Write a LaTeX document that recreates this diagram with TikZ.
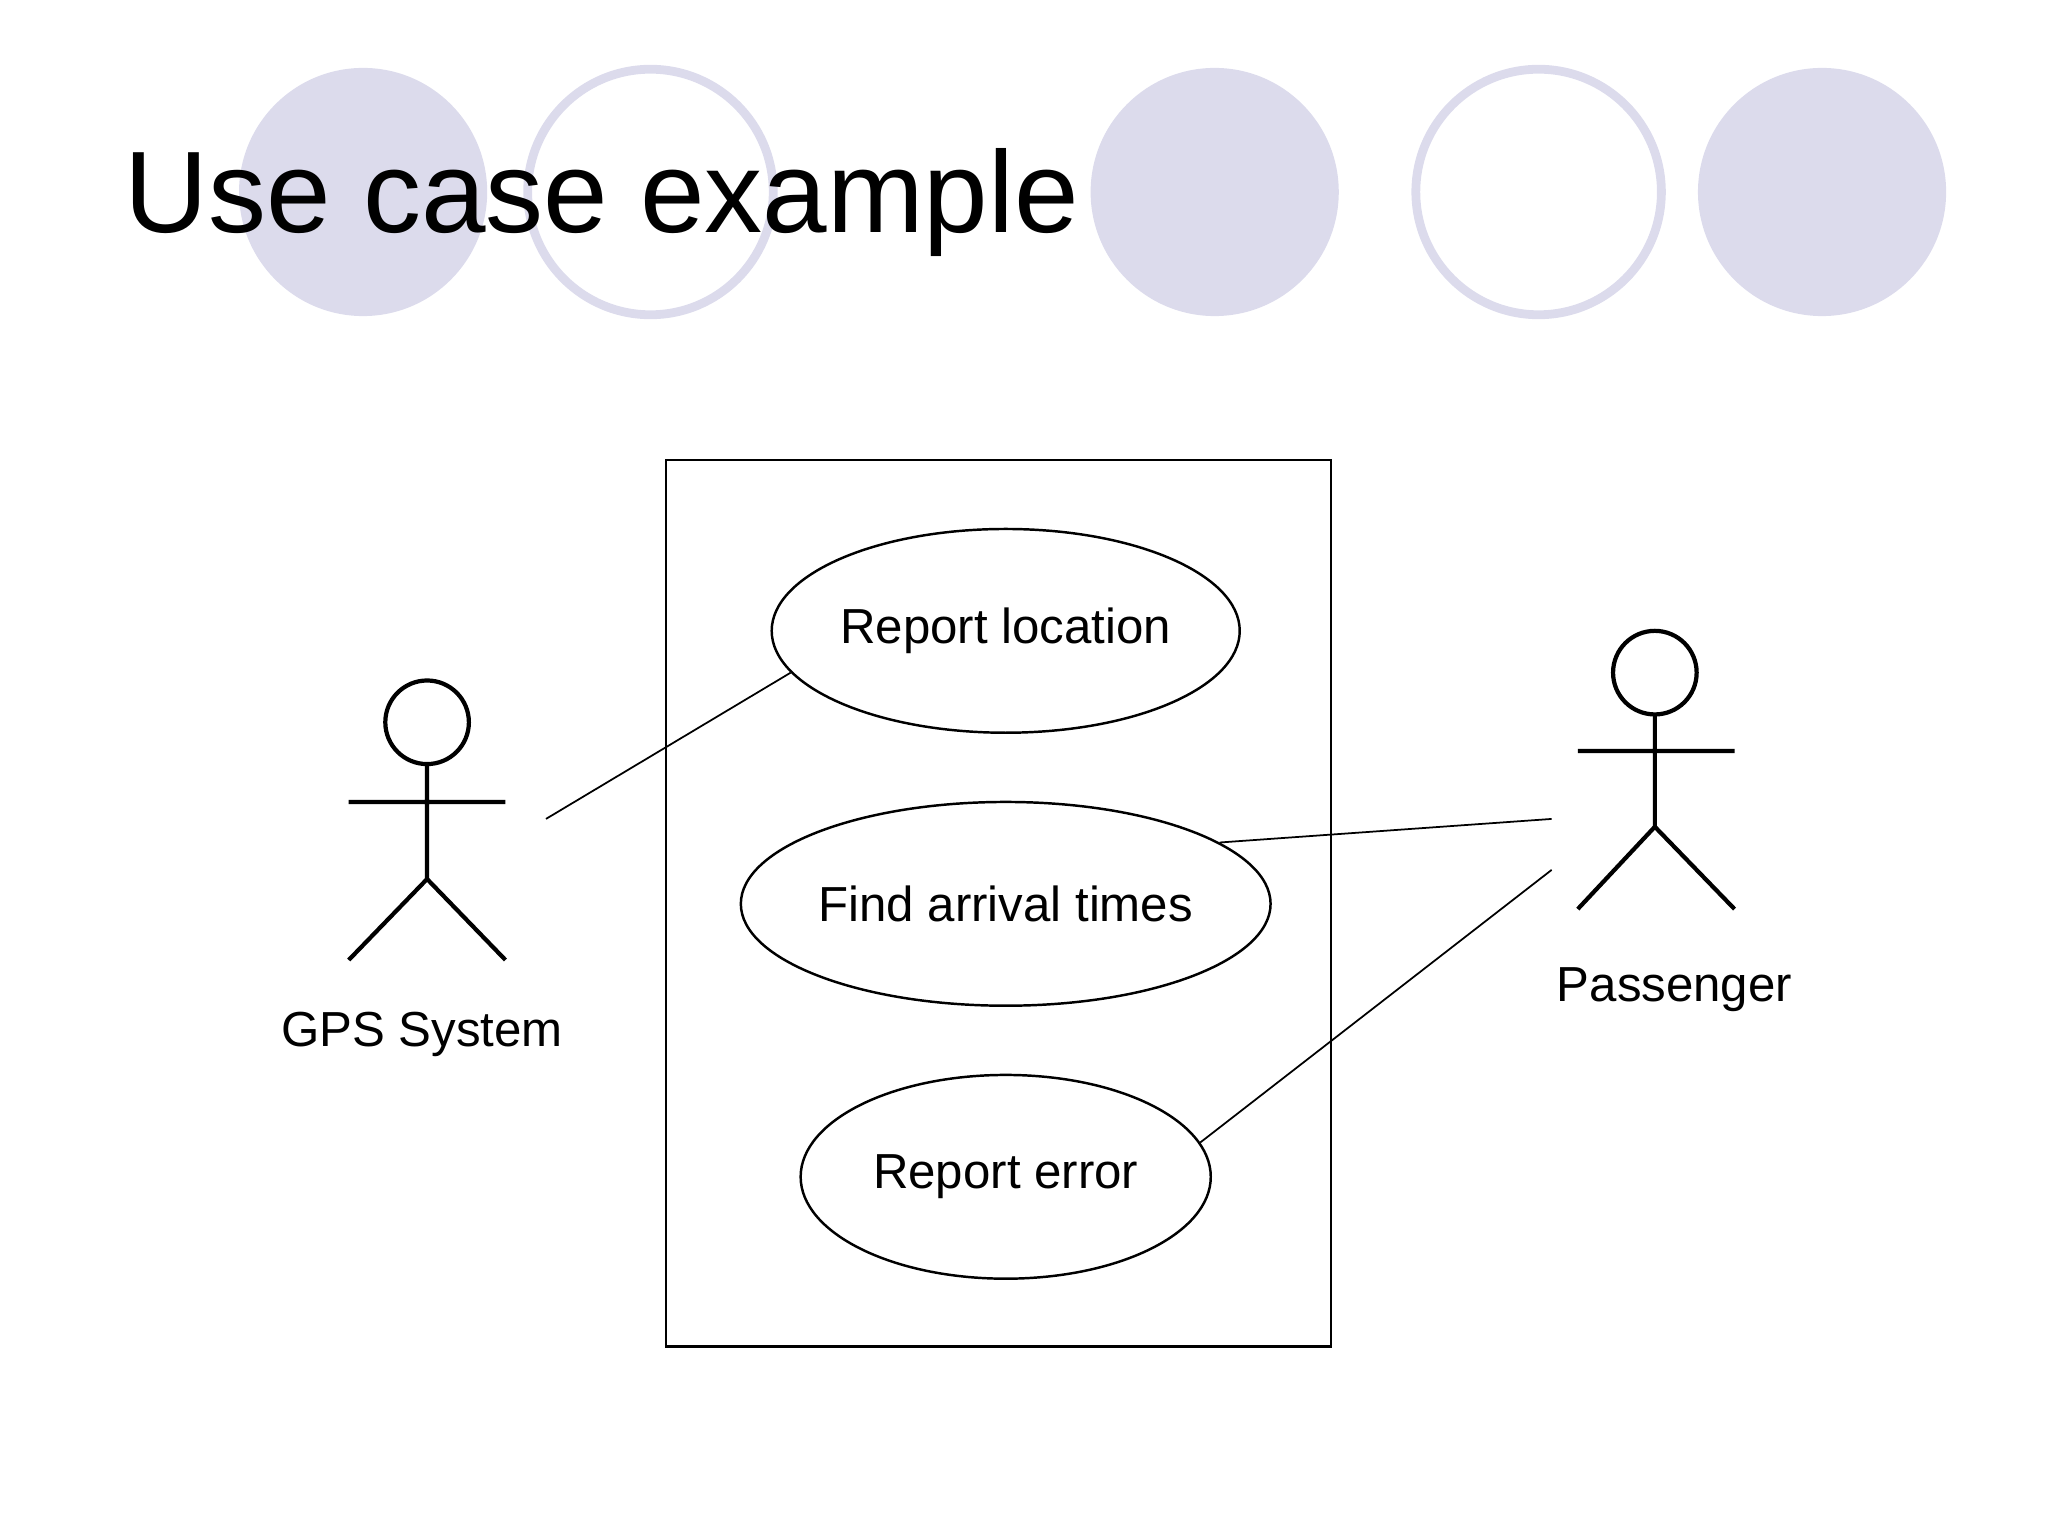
\documentclass[tikz,border=0pt]{standalone}
\usepackage{fontspec}
\setmainfont{Liberation Sans}
\usetikzlibrary{shapes.geometric}
\definecolor{lav}{RGB}{220,219,236}
\begin{document}
\begin{tikzpicture}[x=0.013061cm,y=-0.013061cm,
  deco/.style={line width=2.5pt,draw=lav},
  uc/.style={ellipse,draw,line width=0.7pt,minimum width=314*0.013061cm,minimum height=156*0.013061cm,inner sep=0pt,font=\fontsize{14}{16}\selectfont},
  actor/.style={line width=1.2pt},
  lbl/.style={font=\fontsize{14}{16}\selectfont},
  link/.style={line width=0.5pt}]
\useasboundingbox (0,0) rectangle (1568,1176);
% background circles
\fill[lav] (278,147) circle (95);
\draw[deco] (498,147) circle (94);
\fill[lav] (930,147) circle (95);
\draw[deco] (1178,147) circle (94);
\fill[lav] (1395,147) circle (95);
\node[anchor=base west,inner sep=0pt,font=\fontsize{33}{36}\selectfont] (title) at (95,178) {Use case example};
% system boundary
\draw[line width=0.7pt] (510,352) rectangle (1019,1031);
\node[uc] (rl) at (770,483) {Report location};
\node[uc] (fa) at (770,692) {Find arrival times};
\node[uc] (re) at (770,901) {Report error};
% GPS actor
\draw[actor] (327,553) circle (32);
\draw[actor] (327,585) -- (327,673) (267,614) -- (387,614) (267,735) -- (327,673) -- (387,735);
\node[lbl] (gps) at (323,792) {GPS System};
% Passenger actor
\draw[actor] (1267,515) circle (32);
\draw[actor] (1267,547) -- (1267,633) (1208,575) -- (1328,575) (1208,696) -- (1267,633) -- (1328,696);
\node[lbl] (pas) at (1282,758) {Passenger};
% connectors
\coordinate (g1) at (418,627);
\coordinate (p1) at (1188,627);
\coordinate (p2) at (1188,666);
\draw[link] (g1) -- (rl.191);
\draw[link] (p1) -- (fa.16);
\draw[link] (p2) -- (re.10);
\end{tikzpicture}
\end{document}
